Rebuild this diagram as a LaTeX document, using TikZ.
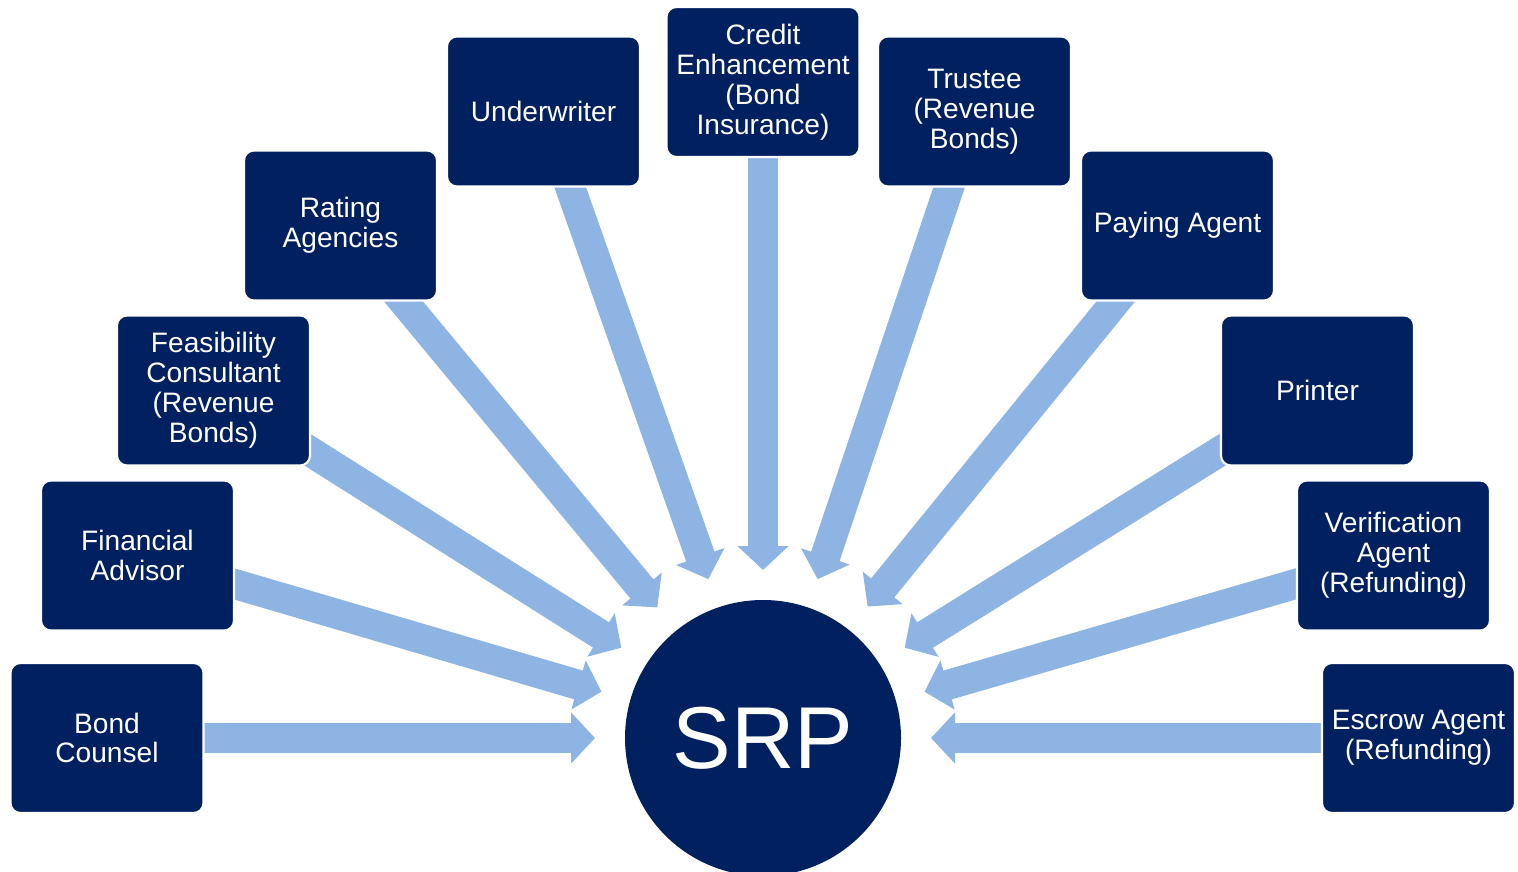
\documentclass[tikz,border=0pt]{standalone}
\usepackage{fontspec}
\setmainfont{Liberation Sans}
\usepackage{tikz}
\usetikzlibrary{positioning,arrows.meta,calc,backgrounds}
\definecolor{navy}{HTML}{002060}
\definecolor{feedblue}{HTML}{8EB4E3}
\tikzset{
  party/.style={rectangle, rounded corners=0.1cm, draw=white, line width=0.6pt, fill=navy,
    minimum width=1.93cm, minimum height=1.5cm, inner sep=0pt, align=center, text=white,
    font=\fontsize{8}{8.5}\selectfont},
  feed/.style={feedblue, line width=0.3cm, -{Triangle[length=0.24cm, width=0.5cm]}},
}

\begin{document}
\begin{tikzpicture}
\useasboundingbox (0,0) rectangle (15.18,8.71);
% issuer in the middle, the parties around it
\node[circle, fill=navy, minimum size=2.76cm, inner sep=0pt, text=white, font=\fontsize{25}{25}\selectfont] (srp) at (7.63,1.33) {SRP};
\node[party] (bond) at (1.07,1.33) {Bond\\Counsel};
\node[party] (finadv) at (1.375,3.155) {Financial\\Advisor};
\node[party] (feas) at (2.135,4.805) {Feasibility\\Consultant\\(Revenue\\Bonds)};
\node[party] (rating) at (3.405,6.455) {Rating\\Agencies};
\node[party] (under) at (5.435,7.595) {Underwriter};
\node[party] (credit) at (7.63,7.89) {Credit\\Enhancement\\(Bond\\Insurance)};
\node[party] (trustee) at (9.745,7.595) {Trustee\\(Revenue\\Bonds)};
\node[party] (paying) at (11.775,6.455) {Paying Agent};
\node[party] (printer) at (13.175,4.805) {Printer};
\node[party] (verif) at (13.935,3.155) {Verification\\Agent\\(Refunding)};
\node[party] (escrow) at (14.185,1.33) {Escrow Agent\\(Refunding)};
% arrow tips sit on a ring round the circle
\coordinate (tBond) at ($(srp)+(180:1.68)$);
\coordinate (tFinadv) at ($(srp)+(164:1.68)$);
\coordinate (tFeas) at ($(srp)+(147.5:1.68)$);
\coordinate (tRating) at ($(srp)+(129:1.68)$);
\coordinate (tUnder) at ($(srp)+(109:1.68)$);
\coordinate (tCredit) at ($(srp)+(90:1.68)$);
\coordinate (tTrustee) at ($(srp)+(71:1.68)$);
\coordinate (tPaying) at ($(srp)+(51.5:1.68)$);
\coordinate (tPrinter) at ($(srp)+(32.5:1.68)$);
\coordinate (tVerif) at ($(srp)+(16:1.68)$);
\coordinate (tEscrow) at ($(srp)+(0:1.68)$);
\begin{pgfonlayer}{background}
\draw[feed] (bond.center) -- (tBond);
\draw[feed] (finadv.center) -- (tFinadv);
\draw[feed] (feas.center) -- (tFeas);
\draw[feed] (rating.center) -- (tRating);
\draw[feed] (under.center) -- (tUnder);
\draw[feed] (credit.center) -- (tCredit);
\draw[feed] (trustee.center) -- (tTrustee);
\draw[feed] (paying.center) -- (tPaying);
\draw[feed] (printer.center) -- (tPrinter);
\draw[feed] (verif.center) -- (tVerif);
\draw[feed] (escrow.center) -- (tEscrow);
\end{pgfonlayer}
\end{tikzpicture}
\end{document}
